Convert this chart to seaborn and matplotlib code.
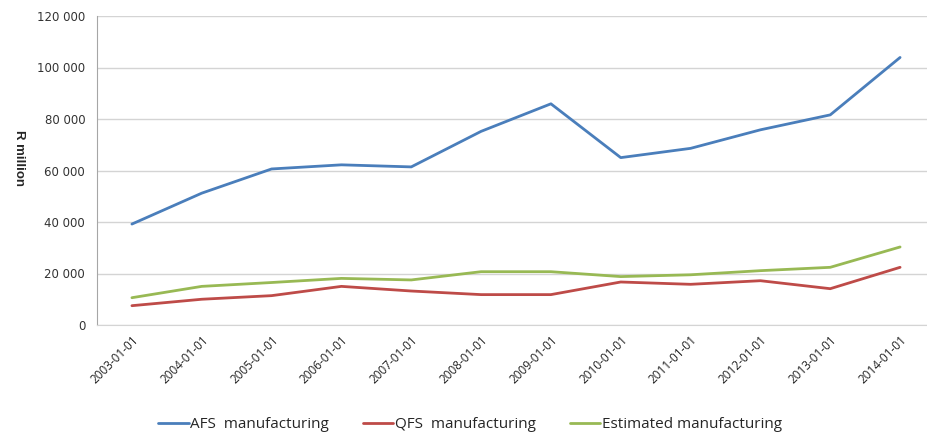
import pandas as pd
import numpy as np
import matplotlib
matplotlib.use("Agg")
import matplotlib.pyplot as plt
import seaborn as sns
from matplotlib.ticker import FuncFormatter, FixedLocator
from matplotlib.lines import Line2D

dates = ['2003-01-01', '2004-01-01', '2005-01-01', '2006-01-01', '2007-01-01', '2008-01-01',
         '2009-01-01', '2010-01-01', '2011-01-01', '2012-01-01', '2013-01-01', '2014-01-01']
afs = [39200, 51200, 60600, 62200, 61400, 75200, 85900, 65000, 68600, 75800, 81600, 103900]
qfs = [7500, 10000, 11400, 15000, 13200, 11800, 11800, 16700, 15800, 17200, 14100, 22400]
est = [10600, 15000, 16500, 18100, 17500, 20700, 20700, 18800, 19500, 21100, 22400, 30300]
series_names = ['AFS  manufacturing', 'QFS  manufacturing', 'Estimated manufacturing']
colors = ['#4A7EBB', '#BE4B48', '#98B954']

### long format table for seaborn
df = pd.DataFrame({
    'pos': list(range(len(dates))) * 3,
    'value': afs + qfs + est,
    'series': [s for s in series_names for _ in dates],
})

sns.set_style('white')
fig = plt.figure(figsize=(9.27, 4.43), dpi=100)
ax = fig.add_axes([97/927, 1-325/443, (935-97)/927, (325-16)/443])

sns.lineplot(data=df, x='pos', y='value', hue='series', palette=colors,
             linewidth=2, ax=ax, legend=False)

ax.set_xlim(-0.5, len(dates) - 0.5)
ax.set_ylim(0, 120000)
ax.set_yticks(np.arange(0, 120001, 20000))
ax.yaxis.set_major_formatter(FuncFormatter(lambda v, p: f'{v:,.0f}'.replace(',', ' ')))
ax.grid(axis='y', color='#D4D4D4', linewidth=1)
ax.set_axisbelow(True)

ax.set_xticks(range(len(dates)))
ax.set_xticklabels(dates, rotation=45, ha='right', rotation_mode='anchor',
                   fontsize=8.5, family='Open Sans', color='#222222')
ax.xaxis.set_minor_locator(FixedLocator(np.arange(-0.5, len(dates), 1)))
ax.tick_params(axis='x', which='major', length=0, pad=6)
ax.tick_params(axis='x', which='minor', length=5, color='#A6A6A6', width=1)
ax.tick_params(axis='y', length=5, color='#A6A6A6', width=1, labelsize=8.5,
               labelcolor='#333333', labelfontfamily='DejaVu Sans')

for s in ['top', 'right']:
    ax.spines[s].set_visible(False)
ax.spines['left'].set_color('#A6A6A6')
ax.spines['bottom'].set_color('#D4D4D4')

ax.set_xlabel('')
ax.set_ylabel('R million', rotation=270, fontsize=9.5, fontweight='bold', family='Liberation Sans')
ax.yaxis.set_label_coords(-0.1, 0.54)

handles = [Line2D([], [], color=c, linewidth=2) for c in colors]
fig.legend(handles, series_names, loc='center', bbox_to_anchor=(470/927, 1-425/443),
           ncol=3, frameon=False, handlelength=2.0, handletextpad=0.1, columnspacing=2.2,
           prop={'family': 'Open Sans', 'size': 11})

fig.savefig('out.png', dpi=100)
